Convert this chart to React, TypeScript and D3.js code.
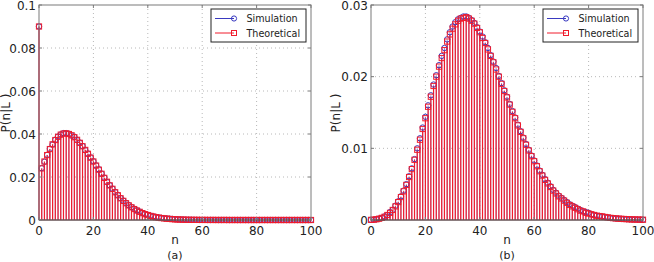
import React from "react";
import * as d3 from "d3";

// Panel (a) theoretical P(n|L), n = 0..100
const theoA: number[] = [
  0.0900, 0.0240, 0.0272, 0.0302, 0.0330, 0.0352, 0.0372, 0.0387, 0.0397, 0.0402,
  0.0403, 0.0400, 0.0394, 0.0385, 0.0373, 0.0359, 0.0343, 0.0326, 0.0308, 0.0290,
  0.0272, 0.0253, 0.0234, 0.0215, 0.0196, 0.0178, 0.0161, 0.0145, 0.0129, 0.0115,
  0.0101, 0.0089, 0.0078, 0.0068, 0.0059, 0.0051, 0.0044, 0.0038, 0.0032, 0.0027,
  0.0023, 0.0019, 0.0016, 0.0013, 0.0011, 0.0009, 0.00075, 0.0006, 0.0005, 0.0004,
  0.0003, 0.00025, 0.0002, 0.00016, 0.00012, 0.0001, 0.00008, 0.00006, 0.00005, 0.00004,
  0.00003, 0.00003, 0.00002, 0.00002, 0.00002, 0.00001, 0.00001, 0.00001, 0.00001, 0.00001,
  0, 0, 0, 0, 0, 0, 0, 0, 0, 0,
  0, 0, 0, 0, 0, 0, 0, 0, 0, 0,
  0, 0, 0, 0, 0, 0, 0, 0, 0, 0,
  0,
];
// Panel (a) simulation
const simA: number[] = [
  0.0900, 0.0241, 0.0271, 0.0303, 0.0331, 0.0351, 0.0373, 0.0388, 0.0398, 0.0404,
  0.0404, 0.0401, 0.0393, 0.0386, 0.0372, 0.0360, 0.0344, 0.0325, 0.0309, 0.0291,
  0.0273, 0.0254, 0.0236, 0.0216, 0.0197, 0.0177, 0.0162, 0.0146, 0.0130, 0.0116,
  0.0102, 0.0090, 0.0079, 0.0069, 0.0060, 0.0052, 0.0045, 0.0039, 0.0033, 0.0028,
  0.0024, 0.0020, 0.0017, 0.0014, 0.0012, 0.0010, 0.0008, 0.0007, 0.0006, 0.0005,
  0.0004, 0.0003, 0.00025, 0.0002, 0.00015, 0.00012, 0.0001, 0.00008, 0.00006, 0.00005,
  0.00004, 0.00003, 0.00003, 0.00002, 0.00002, 0.00001, 0.00001, 0.00001, 0.00001, 0.00001,
  0, 0, 0, 0, 0, 0, 0, 0, 0, 0,
  0, 0, 0, 0, 0, 0, 0, 0, 0, 0,
  0, 0, 0, 0, 0, 0, 0, 0, 0, 0,
  0,
];
// Panel (b) theoretical
const theoB: number[] = [
  0.00002, 0.00005, 0.0001, 0.00018, 0.0003, 0.00045, 0.0007, 0.0010, 0.0014, 0.0019,
  0.0025, 0.0032, 0.0040, 0.0049, 0.0060, 0.0071, 0.0084, 0.0098, 0.0112, 0.0127,
  0.0142, 0.0158, 0.0172, 0.0187, 0.0200, 0.0214, 0.0226, 0.0237, 0.0249, 0.0259,
  0.0267, 0.0273, 0.0278, 0.0281, 0.0282, 0.0283, 0.0281, 0.0278, 0.0274, 0.0268,
  0.0262, 0.0254, 0.0247, 0.0238, 0.0229, 0.0220, 0.0210, 0.0200, 0.0190, 0.0180,
  0.0171, 0.0161, 0.0151, 0.0142, 0.0132, 0.0123, 0.0114, 0.0105, 0.0097, 0.0089,
  0.0082, 0.0075, 0.0068, 0.0062, 0.0056, 0.0051, 0.0046, 0.0041, 0.0037, 0.0033,
  0.0030, 0.0027, 0.0024, 0.0021, 0.0019, 0.0017, 0.0015, 0.0013, 0.0012, 0.0010,
  0.0009, 0.0008, 0.0007, 0.0006, 0.00055, 0.0005, 0.00042, 0.00036, 0.0003, 0.00026,
  0.00022, 0.00019, 0.00016, 0.00014, 0.00012, 0.0001, 0.00008, 0.00007, 0.00006, 0.00005,
  0.00004,
];
// Panel (b) simulation
const simB: number[] = [
  0.00002, 0.00004, 0.0001, 0.0002, 0.0003, 0.0005, 0.0007, 0.0011, 0.0014, 0.0020,
  0.0026, 0.0033, 0.0041, 0.0050, 0.0061, 0.0072, 0.0085, 0.0100, 0.0114, 0.0129,
  0.0144, 0.0160, 0.0174, 0.0189, 0.0202, 0.0216, 0.0229, 0.0240, 0.0252, 0.0262,
  0.0270, 0.0276, 0.0280, 0.0282, 0.0284, 0.0284, 0.0282, 0.0279, 0.0275, 0.0269,
  0.0263, 0.0256, 0.0248, 0.0240, 0.0230, 0.0221, 0.0212, 0.0201, 0.0191, 0.0181,
  0.0172, 0.0162, 0.0152, 0.0143, 0.0133, 0.0124, 0.0115, 0.0106, 0.0098, 0.0090,
  0.0083, 0.0076, 0.0069, 0.0063, 0.0057, 0.0052, 0.0047, 0.0042, 0.0038, 0.0034,
  0.0031, 0.0028, 0.0025, 0.0022, 0.0020, 0.0018, 0.0016, 0.0014, 0.0012, 0.0011,
  0.0010, 0.0008, 0.0007, 0.0006, 0.00055, 0.0005, 0.00043, 0.00037, 0.0003, 0.00026,
  0.00022, 0.00019, 0.00016, 0.00014, 0.00012, 0.0001, 0.00008, 0.00007, 0.00006, 0.00005,
  0.00004,
];

const xTicks = [0, 20, 40, 60, 80, 100];
const yTicksA = [0, 0.02, 0.04, 0.06, 0.08, 0.1];
const yTickLabelsA = ["0", "0.02", "0.04", "0.06", "0.08", "0.1"];
const yTicksB = [0, 0.01, 0.02, 0.03];
const yTickLabelsB = ["0", "0.01", "0.02", "0.03"];
const seriesNames = ["Simulation", "Theoretical"];

const FONT = "'DejaVu Sans', sans-serif";
const RED = "#f01c2c";
const BLUE = "#3a3ac0";

type PanelProps = {
  x0: number;
  x1: number;
  yMax: number;
  yTicks: number[];
  yLabels: string[];
  sim: number[];
  theo: number[];
  caption: string;
  ylabelX: number;
};

function Panel({ x0, x1, yMax, yTicks, yLabels, sim, theo, caption, ylabelX }: PanelProps) {
  const top = 5;
  const bottom = 220;
  const x = d3.scaleLinear().domain([0, 100]).range([x0, x1]);
  const y = d3.scaleLinear().domain([0, yMax]).range([bottom, top]);
  const ns = d3.range(0, 101);
  const lgX = x1 - 100;
  const lgY = 9;
  return (
    <g>
      {/* grid */}
      {xTicks.slice(1, -1).map((t) => (
        <line key={"gx" + t} x1={x(t)} x2={x(t)} y1={top} y2={bottom} stroke="#b8b8b8" strokeDasharray="1,3" />
      ))}
      {yTicks.slice(1, -1).map((t) => (
        <line key={"gy" + t} x1={x0} x2={x1} y1={y(t)} y2={y(t)} stroke="#b8b8b8" strokeDasharray="1,3" />
      ))}
      {/* simulation stems (hidden behind theoretical stems) */}
      {ns.map((n) => (
        <line key={"ss" + n} x1={x(n)} x2={x(n)} y1={bottom} y2={y(sim[n])} stroke={BLUE} strokeWidth={0.6} />
      ))}
      {/* theoretical stems */}
      {ns.map((n) => (
        <line key={"ts" + n} x1={x(n)} x2={x(n)} y1={bottom} y2={y(theo[n])} stroke={RED} strokeWidth={1.2} />
      ))}
      {/* simulation markers */}
      {ns.map((n) => (
        <circle key={"sm" + n} cx={x(n)} cy={y(sim[n])} r={2.7} fill="none" stroke={BLUE} strokeWidth={1} />
      ))}
      {/* theoretical markers */}
      {ns.map((n) => (
        <rect key={"tm" + n} x={x(n) - 2.6} y={y(theo[n]) - 2.6} width={5.2} height={5.2} fill="none" stroke={RED} strokeWidth={1} />
      ))}
      {/* baseline */}
      <line x1={x0} x2={x1} y1={bottom} y2={bottom} stroke="#3a0008" strokeWidth={1} />
      {/* axes box */}
      <rect x={x0} y={top} width={x1 - x0} height={bottom - top} fill="none" stroke="#7a7a7a" strokeWidth={1} />
      {/* ticks */}
      {xTicks.map((t) => (
        <g key={"xt" + t}>
          <line x1={x(t)} x2={x(t)} y1={bottom} y2={bottom - 3} stroke="#7a7a7a" />
          <line x1={x(t)} x2={x(t)} y1={top} y2={top + 3} stroke="#7a7a7a" />
          <text x={x(t)} y={bottom + 15} textAnchor="middle" fontSize={12} fontFamily={FONT} fill="#222">
            {t}
          </text>
        </g>
      ))}
      {yTicks.map((t, i) => (
        <g key={"yt" + t}>
          <line x1={x0} x2={x0 + 3} y1={y(t)} y2={y(t)} stroke="#7a7a7a" />
          <line x1={x1} x2={x1 - 3} y1={y(t)} y2={y(t)} stroke="#7a7a7a" />
          <text x={x0 - 3} y={y(t) + 4.5} textAnchor="end" fontSize={12} fontFamily={FONT} fill="#222">
            {yLabels[i]}
          </text>
        </g>
      ))}
      <text x={(x0 + x1) / 2} y={244} textAnchor="middle" fontSize={12} fontFamily={FONT} fill="#222">
        n
      </text>
      <text x={(x0 + x1) / 2} y={259} textAnchor="middle" fontSize={11} fontFamily={FONT} fill="#222">
        {caption}
      </text>
      <text
        transform={`translate(${ylabelX},113) rotate(-90)`}
        textAnchor="middle"
        fontSize={12}
        fontFamily={FONT}
        fill="#222"
      >
        P(n|L )
      </text>
      {/* legend */}
      <rect x={lgX} y={lgY} width={95} height={33} fill="#fff" stroke="#222" strokeWidth={1} />
      {seriesNames.map((name, i) => {
        const cy = lgY + 9.5 + i * 14.5;
        const col = i === 0 ? BLUE : RED;
        return (
          <g key={name}>
            <line x1={lgX + 4} x2={lgX + 23} y1={cy} y2={cy} stroke={col} strokeWidth={1} />
            {i === 0 ? (
              <circle cx={lgX + 23} cy={cy} r={2.6} fill="none" stroke={col} />
            ) : (
              <rect x={lgX + 20.5} y={cy - 2.5} width={5} height={5} fill="none" stroke={col} />
            )}
            <text x={lgX + 35.5} y={cy + 3.5} fontSize={9.6} fontFamily={FONT} fill="#222">
              {name}
            </text>
          </g>
        );
      })}
    </g>
  );
}

export default function App() {
  return (
    <svg width={654} height={262} style={{ position: "absolute", left: 0, top: 0, background: "#fff" }}>
      <rect x={0} y={0} width={654} height={262} fill="#fff" />
      <Panel x0={39} x1={311} yMax={0.1} yTicks={yTicksA} yLabels={yTickLabelsA} sim={simA} theo={theoA} caption="(a)" ylabelX={10} />
      <Panel x0={371} x1={643} yMax={0.03} yTicks={yTicksB} yLabels={yTickLabelsB} sim={simB} theo={theoB} caption="(b)" ylabelX={340} />
    </svg>
  );
}
